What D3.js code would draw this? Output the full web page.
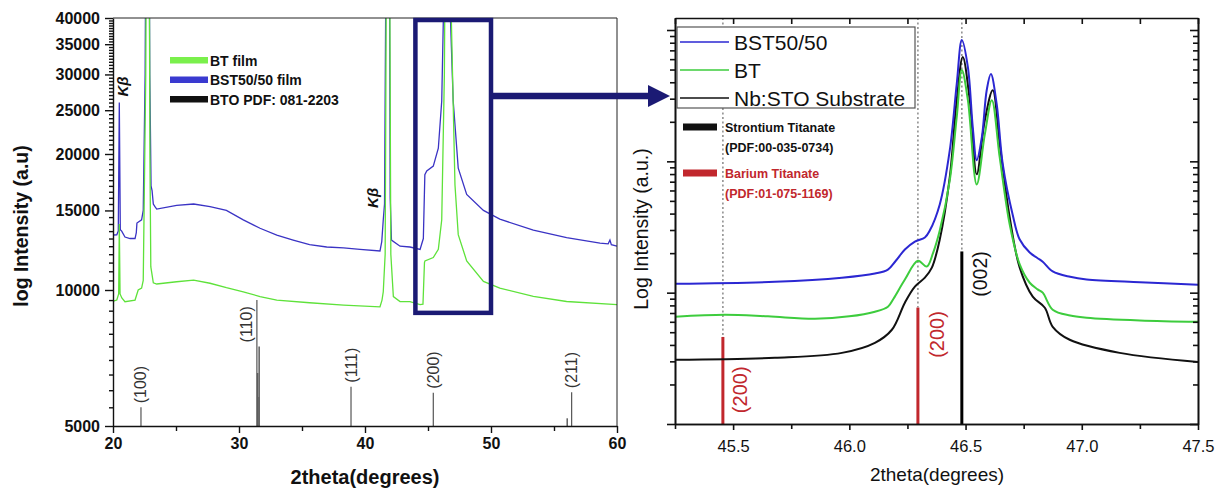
<!DOCTYPE html>
<html><head><meta charset="utf-8">
<script src="https://cdn.jsdelivr.net/npm/d3@7"></script>
<style>
body{margin:0;background:#fff}
svg{display:block;font-family:"Liberation Sans",Arial,Helvetica,sans-serif}
</style>
</head><body>
<svg id="chart" width="1224" height="494"></svg>
<script>
// ---------------- DATA ----------------
// Left panel: wide scan, [2theta, intensity]
const bstFilm = [[19.9,13230],[20.3,13250],[20.42,13500],[20.5,26000],[20.58,13600],[20.69,13500],[20.95,13100],[21.35,13000],[21.75,13000],[21.85,13400],[21.9,14070],[22.27,14300],[22.4,15000],[22.55,30000],[22.75,400000],[22.92,30000],[23.02,17000],[23.1,16600],[23.2,15500],[23.33,15290],[23.47,15100],[25.05,15400],[26.4,15500],[27.7,15300],[29.0,15000],[30.34,14300],[31.67,13700],[33.0,13230],[34.3,12900],[35.6,12600],[36.96,12450],[38.3,12400],[39.6,12300],[41.19,12200],[41.33,12800],[41.45,14300],[41.55,15500],[41.85,400000],[42.0,16000],[42.1,12900],[42.78,12500],[43.57,12450],[44.37,12300],[44.63,13000],[44.75,18000],[44.9,18340],[45.42,18800],[45.82,20600],[46.09,26200],[46.22,40000],[46.5,400000],[46.78,40000],[47.0,26200],[47.4,18600],[48.07,16270],[49.4,15000],[50.7,14350],[53.36,13570],[56.0,13060],[58.65,12700],[59.3,12650],[59.44,12900],[59.55,12600],[60,12500]];
const btFilm = [[19.9,9420],[20.3,9500],[20.45,9800],[20.5,14000],[20.56,9800],[20.7,9600],[20.95,9420],[21.75,9500],[21.85,9700],[22.0,10000],[22.27,10100],[22.4,10500],[22.6,30000],[22.78,400000],[22.93,20000],[23.0,11260],[23.2,10370],[23.47,10310],[25.05,10430],[26.4,10520],[27.7,10350],[29.0,10120],[30.34,9910],[31.67,9670],[33.0,9500],[35.6,9370],[38.3,9260],[41.19,9180],[41.35,9500],[41.45,9910],[41.6,12000],[41.83,400000],[42.05,12000],[42.25,9670],[42.78,9430],[43.57,9420],[44.37,9280],[44.6,9300],[44.72,11500],[44.76,11600],[45.42,11800],[45.82,12300],[46.09,14300],[46.3,30000],[46.55,400000],[46.85,40000],[47.14,17100],[47.4,13260],[48.07,11600],[49.4,10450],[50.7,10100],[53.36,9680],[56.0,9430],[60,9280]];
// BTO PDF 081-2203 reference lines
const btoTheta  = [22.22, 31.42, 38.89, 45.42, 56.4];
const btoInt    = [5500, 9500, 6110, 5925, 5940];
const btoLabels = ["(100)", "(110)", "(111)", "(200)", "(211)"];
const btoLabelAt = [5500, 7500, 6110, 5925, 5940];
const btoMinorTheta = [31.48, 31.58, 31.6, 56.05];
const btoMinorInt   = [6550, 5800, 7500, 5200];
const leftYMajor = [5000,10000,15000,20000,25000,30000,35000,40000];
const leftXMajor = [20,30,40,50,60];
const leftXMinor = [25,35,45,55];
const zoomWindow = [44, 50];          // 2theta range of the boxed region
const zoomWindowInt = [8900, 40000];  // intensity range of the box

// Right panel: zoomed scan, [2theta, intensity a.u.]
const bstRight = [[45.25,11.7],[45.68,12.1],[45.968,13.0],[46.11,14.0],[46.166,15.0],[46.2,17.5],[46.239,21.3],[46.282,24.5],[46.325,26.3],[46.346,29.7],[46.389,47],[46.432,121],[46.462,387],[46.484,839],[46.51,522],[46.531,182],[46.548,102],[46.57,152],[46.591,348],[46.609,462],[46.634,272],[46.66,95],[46.703,39],[46.733,25.4],[46.776,20.2],[46.81,18.3],[46.832,17.2],[46.875,14.5],[46.95,13.2],[47.021,12.6],[47.25,12.0],[47.5,11.5]];
const btRight = [[45.25,6.56],[45.465,6.79],[45.65,6.6],[45.852,6.34],[46.0,6.6],[46.11,7.16],[46.166,7.82],[46.19,9.0],[46.239,12.6],[46.295,17.5],[46.333,15.8],[46.36,20],[46.389,29.7],[46.432,71.6],[46.462,217],[46.484,495],[46.51,292],[46.548,66.7],[46.583,161],[46.613,292],[46.647,107],[46.69,33],[46.733,16.4],[46.776,11.9],[46.81,10.6],[46.832,10],[46.875,7.42],[46.95,6.7],[47.021,6.45],[47.25,6.15],[47.5,6.0]];
const stoRight = [[45.25,3.08],[45.68,3.19],[45.968,3.48],[46.11,4.15],[46.183,5.22],[46.239,8.39],[46.282,11.1],[46.325,13.0],[46.355,15.5],[46.389,25.4],[46.432,75.5],[46.462,292],[46.488,622],[46.518,292],[46.548,79.6],[46.583,206],[46.617,348],[46.647,135],[46.69,37.4],[46.733,15.5],[46.789,9.32],[46.841,7.68],[46.875,5.5],[46.948,4.38],[47.163,3.48],[47.5,2.97]];
const stoRefTheta = [46.484];
const stoRefInt   = [20.6];
const stoRefLabel = ["(002)"];
const stoRefLabelAt = [9.3];
const btoRefTheta = [45.456, 46.295];
const btoRefInt   = [4.6, 7.7];
const btoRefLabel = ["(200)", "(200)"];
const btoRefLabelAt = [1.21, 3.19];
const rightXMajor = [45.5, 46.0, 46.5, 47.0, 47.5];
const rightXMinor = [45.25, 45.75, 46.25, 46.75, 47.25];
const rightYDecades = [1, 10, 100, 1000];

// ---------------- COLORS ----------------
const C = {
  blueL: "#3a33c4", greenL: "#5ee23a",
  blueR: "#2b27d2", greenR: "#3dcc3d", black: "#111",
  red: "#c1272d", navy: "#1b1a74", gray: "#555"
};

const svg = d3.select("#chart");

// ================= LEFT PANEL =================
const xL = d3.scaleLinear().domain([20, 60]).range([113, 617]);
const yL = d3.scaleLog().domain([5000, 40000]).range([426, 18]);

svg.append("clipPath").attr("id", "clipL").append("rect")
  .attr("x", xL(20)).attr("y", yL(40000)).attr("width", xL(60) - xL(20)).attr("height", yL(5000) - yL(40000));

const gL = svg.append("g");
const lineL = d3.line().x(d => xL(d[0])).y(d => yL(d[1]));

// reference lines
gL.append("g").attr("clip-path", "url(#clipL)").selectAll("line.min").data(btoMinorTheta).join("line")
  .attr("x1", d => xL(d)).attr("x2", d => xL(d))
  .attr("y1", yL(5000)).attr("y2", (d, i) => yL(btoMinorInt[i]))
  .attr("stroke", "#666").attr("stroke-width", 1.6);
gL.append("g").selectAll("line").data(btoTheta).join("line")
  .attr("x1", d => xL(d)).attr("x2", d => xL(d))
  .attr("y1", yL(5000)).attr("y2", (d, i) => yL(btoInt[i]))
  .attr("stroke", "#555").attr("stroke-width", 1.2);
gL.append("g").selectAll("text").data(btoTheta).join("text")
  .attr("transform", (d, i) => {
    const dx = btoLabels[i] === "(110)" ? -5 : 5.5;
    return `translate(${xL(d) + dx},${yL(btoLabelAt[i]) - 4}) rotate(-90)`;
  })
  .attr("font-size", 16).attr("fill", "#333").text((d, i) => btoLabels[i]);

// curves
const curvesL = gL.append("g").attr("clip-path", "url(#clipL)");
curvesL.append("path").datum(bstFilm).attr("d", lineL).attr("fill", "none").attr("stroke", C.blueL).attr("stroke-width", 1.3);
curvesL.append("path").datum(btFilm).attr("d", lineL).attr("fill", "none").attr("stroke", C.greenL).attr("stroke-width", 1.3);

// axes
const axYL = gL.append("g").attr("transform", `translate(${xL(20)},0)`)
  .call(d3.axisLeft(yL).tickValues(leftYMajor).tickFormat(d3.format("d")).tickSize(8).tickSizeOuter(0).tickPadding(5));
axYL.selectAll("text").attr("font-size", 16).attr("font-weight", "bold").attr("fill", "#111").attr("font-family", "Liberation Sans, Arial");
const minorYL = d3.range(5500, 40000, 500).filter(v => v % 5000 !== 0);
gL.append("g").attr("transform", `translate(${xL(20)},0)`)
  .call(d3.axisLeft(yL).tickValues(minorYL).tickFormat("").tickSize(4).tickSizeOuter(0))
  .call(g => g.select(".domain").remove());
const axXL = gL.append("g").attr("transform", `translate(0,${yL(5000)})`)
  .call(d3.axisBottom(xL).tickValues(leftXMajor).tickFormat(d3.format("d")).tickSize(7).tickSizeOuter(0).tickPadding(5));
axXL.selectAll("text").attr("font-size", 16).attr("font-weight", "bold").attr("fill", "#111").attr("font-family", "Liberation Sans, Arial");
gL.append("g").attr("transform", `translate(0,${yL(5000)})`)
  .call(d3.axisBottom(xL).tickValues(leftXMinor).tickFormat("").tickSize(5).tickSizeOuter(0))
  .call(g => g.select(".domain").remove());
gL.selectAll(".domain, .tick line").attr("stroke", "#111").attr("stroke-width", 1.4);
// frame top & right
gL.append("path").attr("d", `M${xL(20)},${yL(40000)}H${xL(60)}V${yL(5000)}`).attr("fill", "none").attr("stroke", "#222").attr("stroke-width", 1);

// axis titles
svg.append("text").attr("transform", `translate(28,${(yL(5000) + yL(40000)) / 2 + 4}) rotate(-90)`)
  .attr("text-anchor", "middle").attr("font-size", 19.5).attr("font-weight", "bold").attr("fill", "#111")
  .text("log Intensity (a.u)");
svg.append("text").attr("x", (xL(20) + xL(60)) / 2).attr("y", 484)
  .attr("text-anchor", "middle").attr("font-size", 20).attr("font-weight", "bold").attr("fill", "#111")
  .text("2theta(degrees)");

// K-beta labels
[[20.5, 26000], [41.4, 14300]].forEach(([t, v], i) => {
  const y = i === 0 ? yL(v) - 16 : yL(v) - 22;
  const x = i === 0 ? xL(t) + 9 : xL(t) - 5;
  svg.append("text").attr("transform", `translate(${x},${y}) rotate(-90)`)
    .attr("text-anchor", "middle").attr("font-size", 15).attr("font-weight", "bold").attr("font-style", "italic").attr("fill", "#111")
    .text("Kβ");
});

// left legend
const legL = [["BT film", "#7af04c"], ["BST50/50 film", "#3a3ad0"], ["BTO PDF: 081-2203", "#111"]];
legL.forEach(([lab, col], i) => {
  const y = 60 + i * 19.5;
  svg.append("rect").attr("x", 170).attr("y", y - 3).attr("width", 38).attr("height", 6.5).attr("fill", col);
  svg.append("text").attr("x", 210).attr("y", y + 5.5).attr("font-size", 14).attr("font-weight", "bold").attr("fill", "#111").text(lab);
});

// zoom box and arrow
const bx0 = xL(zoomWindow[0]), bx1 = xL(zoomWindow[1]);
const by0 = yL(zoomWindowInt[1]) + 2, by1 = yL(zoomWindowInt[0]);
svg.append("rect").attr("x", bx0).attr("y", by0).attr("width", bx1 - bx0).attr("height", by1 - by0)
  .attr("fill", "none").attr("stroke", C.navy).attr("stroke-width", 4.5);

// ================= RIGHT PANEL =================
const xR = d3.scaleLinear().domain([45.25, 47.5]).range([675, 1198]);
const yTopR = Math.pow(10, 3 + 12 / 131.3);
const yR = d3.scaleLog().domain([1, yTopR]).range([424, 18]);

// arrow
const ay = 96;
svg.append("line").attr("x1", bx1 + 2).attr("x2", xR(45.25) - 25).attr("y1", ay).attr("y2", ay)
  .attr("stroke", C.navy).attr("stroke-width", 6.5);
svg.append("path").attr("d", `M${xR(45.25) - 27},${ay - 11}L${xR(45.25) - 5},${ay}L${xR(45.25) - 27},${ay + 11}Z`).attr("fill", C.navy);

svg.append("clipPath").attr("id", "clipR").append("rect")
  .attr("x", xR(45.25)).attr("y", yR(yTopR)).attr("width", xR(47.5) - xR(45.25)).attr("height", yR(1) - yR(yTopR));

const gR = svg.append("g");

// dotted guide lines
const allRefT = btoRefTheta.concat(stoRefTheta);
const allRefV = btoRefInt.concat(stoRefInt);
gR.append("g").selectAll("line").data(allRefT).join("line")
  .attr("x1", d => xR(d)).attr("x2", d => xR(d)).attr("y1", yR(yTopR)).attr("y2", (d, i) => yR(allRefV[i]))
  .attr("stroke", "#8a8a8a").attr("stroke-width", 1.5).attr("stroke-dasharray", "2,2.5");

// legend box
svg.append("rect").attr("x", 677).attr("y", 27).attr("width", 238).attr("height", 81)
  .attr("fill", "#fff").attr("stroke", "#555").attr("stroke-width", 1.2);
const legR = [["BST50/50", C.blueR], ["BT", C.greenR], ["Nb:STO Substrate", C.black]];
legR.forEach(([lab, col], i) => {
  const y = 42 + i * 28;
  svg.append("line").attr("x1", 680).attr("x2", 729).attr("y1", y).attr("y2", y).attr("stroke", col).attr("stroke-width", 1.6);
  svg.append("text").attr("x", 734).attr("y", y + 7.5).attr("font-size", 21).attr("fill", "#111").text(lab);
});
// reference legend
const legRef = [["Strontium Titanate", "(PDF:00-035-0734)", "#111"], ["Barium Titanate", "(PDF:01-075-1169)", C.red]];
legRef.forEach(([a, b, col], i) => {
  const y = 127 + i * 46;
  svg.append("rect").attr("x", 683).attr("y", y - 3.5).attr("width", 34).attr("height", 7).attr("fill", col);
  svg.append("text").attr("x", 725).attr("y", y + 5).attr("font-size", 12.5).attr("font-weight", "bold").attr("fill", col).text(a);
  svg.append("text").attr("x", 725).attr("y", y + 25).attr("font-size", 12.5).attr("font-weight", "bold").attr("fill", col).text(b);
});

// reference bars
gR.append("g").selectAll("line").data(btoRefTheta).join("line")
  .attr("x1", d => xR(d)).attr("x2", d => xR(d)).attr("y1", yR(1)).attr("y2", (d, i) => yR(btoRefInt[i]))
  .attr("stroke", C.red).attr("stroke-width", 3);
gR.append("g").selectAll("line").data(stoRefTheta).join("line")
  .attr("x1", d => xR(d)).attr("x2", d => xR(d)).attr("y1", yR(1)).attr("y2", (d, i) => yR(stoRefInt[i]))
  .attr("stroke", "#000").attr("stroke-width", 3);
gR.append("g").selectAll("text").data(btoRefTheta).join("text")
  .attr("transform", (d, i) => `translate(${xR(d) + (i === 0 ? 24 : 26)},${yR(btoRefLabelAt[i])}) rotate(-90)`)
  .attr("font-size", 20).attr("fill", C.red).text((d, i) => btoRefLabel[i]);
gR.append("g").selectAll("text").data(stoRefTheta).join("text")
  .attr("transform", (d, i) => `translate(${xR(d) + 25},${yR(stoRefLabelAt[i])}) rotate(-90)`)
  .attr("font-size", 19.5).attr("fill", "#111").text((d, i) => stoRefLabel[i]);

// curves
const lineR = d3.line().x(d => xR(d[0])).y(d => yR(d[1])).curve(d3.curveCatmullRom.alpha(0.5));
const curvesR = gR.append("g").attr("clip-path", "url(#clipR)");
curvesR.append("path").datum(stoRight).attr("d", lineR).attr("fill", "none").attr("stroke", C.black).attr("stroke-width", 2);
curvesR.append("path").datum(btRight).attr("d", lineR).attr("fill", "none").attr("stroke", C.greenR).attr("stroke-width", 2);
curvesR.append("path").datum(bstRight).attr("d", lineR).attr("fill", "none").attr("stroke", C.blueR).attr("stroke-width", 2);

// axes
const minorYR = [];
rightYDecades.forEach(d => { for (let k = 2; k <= 9; k++) if (d * k < yTopR) minorYR.push(d * k); });
const axB = gR.append("g").attr("transform", `translate(0,${yR(1)})`)
  .call(d3.axisBottom(xR).tickValues(rightXMajor).tickFormat(d3.format(".1f")).tickSize(6).tickSizeOuter(0).tickPadding(10));
axB.selectAll("text").attr("font-size", 16.5).attr("fill", "#111").attr("font-family", "Liberation Sans, Arial");
gR.append("g").attr("transform", `translate(0,${yR(1)})`)
  .call(d3.axisBottom(xR).tickValues(rightXMinor).tickFormat("").tickSize(5).tickSizeOuter(0));
gR.append("g").attr("transform", `translate(0,${yR(yTopR)})`)
  .call(d3.axisTop(xR).tickValues(rightXMajor.concat(rightXMinor)).tickFormat("").tickSize(-6).tickSizeOuter(0));
gR.append("g").attr("transform", `translate(${xR(45.25)},0)`)
  .call(d3.axisLeft(yR).tickValues(rightYDecades).tickFormat("").tickSize(8).tickSizeOuter(0));
gR.append("g").attr("transform", `translate(${xR(45.25)},0)`)
  .call(d3.axisLeft(yR).tickValues(minorYR).tickFormat("").tickSize(5).tickSizeOuter(0));
gR.append("g").attr("transform", `translate(${xR(47.5)},0)`)
  .call(d3.axisRight(yR).tickValues(rightYDecades).tickFormat("").tickSize(-8).tickSizeOuter(0));
gR.append("g").attr("transform", `translate(${xR(47.5)},0)`)
  .call(d3.axisRight(yR).tickValues(minorYR).tickFormat("").tickSize(-5).tickSizeOuter(0));
gR.selectAll(".domain, .tick line").attr("stroke", "#111").attr("stroke-width", 1.6);

svg.append("text").attr("transform", `translate(648,${(yR(1) + yR(yTopR)) / 2 + 8}) rotate(-90)`)
  .attr("text-anchor", "middle").attr("font-size", 19.5).attr("fill", "#111").text("Log Intensity (a.u.)");
svg.append("text").attr("x", 937).attr("y", 481).attr("text-anchor", "middle")
  .attr("font-size", 19).attr("fill", "#111").text("2theta(degrees)");
</script>
</body></html>
